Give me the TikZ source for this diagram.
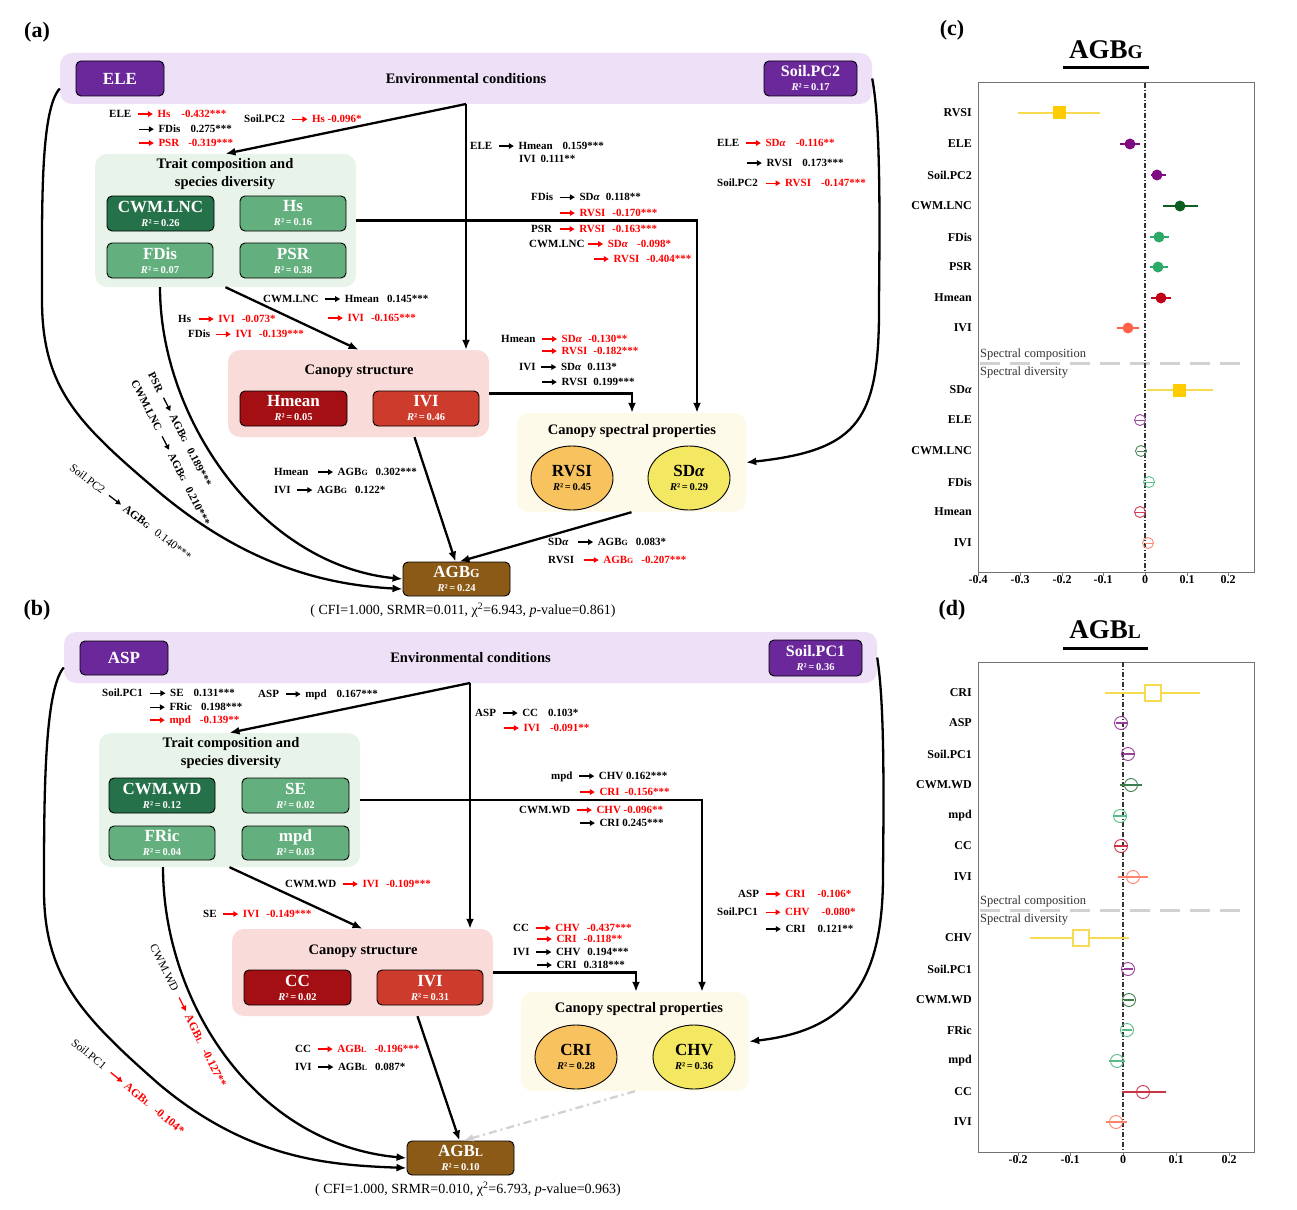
\documentclass[tikz,border=0pt]{standalone}
\usepackage{fontspec}
\setmainfont{Liberation Serif}
\usepackage{graphicx}
\usetikzlibrary{arrows.meta,shapes.geometric}

\definecolor{envbg}{HTML}{EEE0F6}
\definecolor{envpur}{HTML}{6B289B}
\definecolor{trbg}{HTML}{E8F3EA}
\definecolor{dkgreen}{HTML}{25714A}
\definecolor{ltgreen}{HTML}{63B07E}
\definecolor{csbg}{HTML}{F9DCDA}
\definecolor{dkred}{HTML}{A30F12}
\definecolor{mdred}{HTML}{CC3B2B}
\definecolor{spbg}{HTML}{FDFAEA}
\definecolor{orell}{HTML}{F8C35E}
\definecolor{yeell}{HTML}{F4E762}
\definecolor{agbbr}{HTML}{8C5A17}
\definecolor{cPur}{HTML}{7E0C80}
\definecolor{cDg}{HTML}{0E5E1F}
\definecolor{cMg}{HTML}{2EAA68}
\definecolor{cDr}{HTML}{C00019}
\definecolor{cTom}{HTML}{FF6347}
\definecolor{cYel}{HTML}{FFCC00}
\definecolor{cYln}{HTML}{F6DA50}

\newcommand{\ka}{\tikz[baseline=-0.7ex]\draw[black,line width=1.3pt,-{Triangle[length=5pt,width=5.5pt]}] (0pt,0pt) -- (15pt,0pt);}
\newcommand{\ra}{\tikz[baseline=-0.7ex]\draw[red,line width=1.3pt,-{Triangle[length=5pt,width=5.5pt]}] (0pt,0pt) -- (15pt,0pt);}
\newcommand{\rt}[1]{\textcolor{red}{#1}}
\newcommand{\agb}[1]{AGB\scalebox{0.72}{#1}}
\newcommand{\rsq}[1]{\\{\fontsize{10.5}{11}\selectfont\textit{R}²\,=\,#1}}

\tikzset{
    grp/.style={rounded corners=12pt, inner sep=0pt},
    vbox/.style={draw=black, line width=0.9pt, rounded corners=5pt, inner sep=0pt, text=white, align=center, minimum height=35, font=\bfseries\fontsize{17}{14}\selectfont},
    spell/.style={ellipse, draw=black, line width=0.9pt, minimum width=82, minimum height=64, inner sep=0pt, align=center, font=\bfseries\fontsize{17}{14}\selectfont},
    ttl/.style={inner sep=0pt, align=center, font=\bfseries\fontsize{14.5}{18}\selectfont},
    lab/.style={inner sep=0pt, anchor=west, font=\bfseries\fontsize{11}{13}\selectfont},
    rlab/.style={inner sep=0pt, anchor=west, font=\fontsize{11.5}{13}\selectfont},
    rlabb/.style={inner sep=0pt, anchor=west, font=\bfseries\fontsize{11}{13}\selectfont},
    conn/.style={line width=2.3pt, -{Latex[length=10pt,width=8pt]}},
    fitline/.style={inner sep=0pt, font=\fontsize{14}{16}\selectfont},
    pnl/.style={inner sep=0pt, font=\bfseries\fontsize{22}{24}\selectfont},
    rowlab/.style={inner sep=0pt, anchor=east, font=\bfseries\fontsize{12}{14}\selectfont},
    tick/.style={inner sep=0pt, anchor=north, font=\bfseries\fontsize{12}{14}\selectfont},
    sect/.style={inner sep=0pt, anchor=west, text=black!80, font=\fontsize{12.5}{14}\selectfont}
}

\begin{document}
\begin{tikzpicture}[x=1pt, y=-1pt]
\useasboundingbox[fill=white] (0,0) rectangle (1297,1209);

% ---------- (a) ----------
\node[pnl] (pa) at (37,32) {(a)};
\node[grp, fill=envbg, minimum width=812, minimum height=51, ttl] (envA) at (466,78.5) {Environmental conditions};
\node[vbox, fill=envpur, minimum width=88] (eleA) at (120,78.5) {ELE};
\node[vbox, fill=envpur, minimum width=93] (pc2A) at (810.5,78.5) {{\fontsize{16}{14}\selectfont Soil.PC2}\rsq{0.17}};

\node[grp, fill=trbg, minimum width=261, minimum height=133] (trA) at (225.5,220.5) {};
\node[ttl] (trAt) at (225,174) {Trait composition and\\species diversity};
\node[vbox, fill=dkgreen, minimum width=107] (lncA) at (160.5,213.5) {CWM.LNC\rsq{0.26}};
\node[vbox, fill=ltgreen, minimum width=106] (hsA) at (293,213.5) {Hs\rsq{0.16}};
\node[vbox, fill=ltgreen, minimum width=106] (fdA) at (160,260.5) {FDis\rsq{0.07}};
\node[vbox, fill=ltgreen, minimum width=106] (psrA) at (293,260.5) {PSR\rsq{0.38}};

\node[grp, fill=csbg, minimum width=261, minimum height=87] (csA) at (358.5,393.5) {};
\node[ttl] (csAt) at (359,371) {Canopy structure};
\node[vbox, fill=dkred, minimum width=107] (hmA) at (293.5,408.5) {Hmean\rsq{0.05}};
\node[vbox, fill=mdred, minimum width=106] (iviA) at (426,408.5) {IVI\rsq{0.46}};

\node[grp, fill=spbg, minimum width=229, minimum height=99] (spA) at (631.5,462.5) {};
\node[ttl] (spAt) at (632,431) {Canopy spectral properties};
\node[spell, fill=orell] (rvA) at (572,478) {RVSI\rsq{0.45}};
\node[spell, fill=yeell] (sdA) at (689,478) {SD\textit{α}\rsq{0.29}};

\node[vbox, fill=agbbr, minimum width=107, minimum height=34] (agA) at (456.5,579) {\agb{G}\rsq{0.24}};
\node[fitline] (fitA) at (463,610) {( CFI=1.000, SRMR=0.011, χ\textsuperscript{2}=6.943, \textit{p}-value=0.861)};

\coordinate (sA) at (466,104);
\draw[conn] (sA) -- (trA.north);
\draw[conn] (sA) -- (sA |- csA.north);
\draw[conn] (trA.east) -| ([xshift=65.5pt]spA.north);
\draw[conn] (csA.east) -| ([xshift=0.5pt]spA.north);
\draw[conn] (envA.east) .. controls (880,120) and (880,200) .. (879,300) .. controls (880,420) and (860,450) .. (spA.east);
\draw[conn] ([yshift=-10pt]envA.west) .. controls (40,110) and (42,210) .. (42,300) .. controls (42,390) and (80,425) .. (160,493) .. controls (250,568) and (330,585) .. ([yshift=-10pt]agA.west);
\draw[conn] ([xshift=-65.5pt]trA.south) .. controls (160,420) and (262,565) .. (agA.west);
\draw[conn] (trA.south) -- (csA.north);
\draw[conn] ([xshift=56pt]csA.south) -- ([xshift=-1pt]agA.north);
\draw[conn] (spA.south) -- ([xshift=3pt]agA.north);

\node[lab] (lA1) at (109,114) {ELE\hspace{6pt}\ra\hspace{4pt}\rt{Hs\hspace{11pt}-0.432***}};
\node[lab] (lA2) at (138,129) {\ka\hspace{4pt}FDis\hspace{10pt}0.275***};
\node[lab] (lA3) at (138,143) {\ra\hspace{4pt}\rt{PSR\hspace{9pt}-0.319***}};
\node[lab] (lA4) at (244,119) {Soil.PC2\hspace{7pt}\ra\hspace{4pt}\rt{Hs -0.096*}};
\node[lab] (lA5) at (470,146) {ELE\hspace{6pt}\ka\hspace{4pt}Hmean\hspace{10pt}0.159***};
\node[lab] (lA6) at (519,159) {IVI\hspace{5pt}0.111**};
\node[lab] (lA7) at (717,143) {ELE\hspace{6pt}\ra\hspace{4pt}\rt{SD\textit{α}\hspace{10pt}-0.116**}};
\node[lab] (lA8) at (746,163) {\ka\hspace{4pt}RVSI\hspace{10pt}0.173***};
\node[lab] (lA9) at (717,183) {Soil.PC2\hspace{7pt}\ra\hspace{4pt}\rt{RVSI\hspace{10pt}-0.147***}};
\node[lab] (lA10) at (531,197) {FDis\hspace{6pt}\ka\hspace{4pt}SD\textit{α}\hspace{6pt}0.118**};
\node[lab] (lA11) at (559,213) {\ra\hspace{4pt}\rt{RVSI\hspace{7pt}-0.170***}};
\node[lab] (lA12) at (531,229) {PSR\hspace{7pt}\ra\hspace{4pt}\rt{RVSI\hspace{7pt}-0.163***}};
\node[lab] (lA13) at (529,244) {CWM.LNC\hspace{3pt}\ra\hspace{4pt}\rt{SD\textit{α}\hspace{9pt}-0.098*}};
\node[lab] (lA14) at (593,259) {\ra\hspace{4pt}\rt{RVSI\hspace{7pt}-0.404***}};
\node[lab] (lA15) at (263,299) {CWM.LNC\hspace{6pt}\ka\hspace{4pt}Hmean\hspace{8pt}0.145***};
\node[lab] (lA16) at (327,318) {\ra\hspace{4pt}\rt{IVI\hspace{7pt}-0.165***}};
\node[lab] (lA17) at (178,319) {Hs\hspace{7pt}\ra\hspace{4pt}\rt{IVI\hspace{7pt}-0.073*}};
\node[lab] (lA18) at (188,334) {FDis\hspace{5pt}\ra\hspace{4pt}\rt{IVI\hspace{7pt}-0.139***}};
\node[lab] (lA19) at (501,339) {Hmean\hspace{6pt}\ra\hspace{4pt}\rt{SD\textit{α}\hspace{6pt}-0.130**}};
\node[lab] (lA20) at (541,351) {\ra\hspace{4pt}\rt{RVSI\hspace{6pt}-0.182***}};
\node[lab] (lA21) at (519,367) {IVI\hspace{5pt}\ka\hspace{4pt}SD\textit{α}\hspace{6pt}0.113*};
\node[lab] (lA22) at (541,382) {\ka\hspace{4pt}RVSI\hspace{6pt}0.199***};
\node[lab] (lA23) at (274,472) {Hmean\hspace{9pt}\ka\hspace{4pt}\agb{G}\hspace{8pt}0.302***};
\node[lab] (lA24) at (274,490) {IVI\hspace{6pt}\ka\hspace{4pt}\agb{G}\hspace{8pt}0.122*};
\node[lab] (lA25) at (548,542) {SD\textit{α}\hspace{9pt}\ka\hspace{4pt}\agb{G}\hspace{8pt}0.083*};
\node[lab] (lA26) at (548,560) {RVSI\hspace{9pt}\ra\hspace{4pt}\rt{\agb{G}\hspace{8pt}-0.207***}};
\node[rlabb, rotate=-63] (rA1) at (151,373) {PSR\hspace{6pt}\ka\hspace{4pt}\agb{G}\hspace{8pt}0.189***};
\node[rlabb, rotate=-63] (rA2) at (134,381) {CWM.LNC\hspace{6pt}\ka\hspace{4pt}\agb{G}\hspace{8pt}0.210***};
\node[rlab, rotate=-37.5] (rA3) at (71,466) {Soil.PC2\hspace{6pt}\ka\hspace{4pt}\textbf{\agb{G}}\hspace{8pt}0.140***};

% ---------- (b) ----------
\node[pnl] (pb) at (37,610) {(b)};
\node[grp, fill=envbg, minimum width=813, minimum height=51, ttl] (envB) at (470.5,657.5) {Environmental conditions};
\node[vbox, fill=envpur, minimum width=88, minimum height=34] (aspB) at (124,658) {ASP};
\node[vbox, fill=envpur, minimum width=93, minimum height=36] (pc1B) at (815.5,658) {{\fontsize{16}{14}\selectfont Soil.PC1}\rsq{0.36}};

\node[grp, fill=trbg, minimum width=261, minimum height=134] (trB) at (229.5,800) {};
\node[ttl] (trBt) at (231,753.5) {Trait composition and\\species diversity};
\node[vbox, fill=dkgreen, minimum width=106] (wdB) at (162,795.5) {CWM.WD\rsq{0.12}};
\node[vbox, fill=ltgreen, minimum width=107] (seB) at (295.5,795.5) {SE\rsq{0.02}};
\node[vbox, fill=ltgreen, minimum width=106, minimum height=34] (frB) at (162,843) {FRic\rsq{0.04}};
\node[vbox, fill=ltgreen, minimum width=107, minimum height=34] (mpdB) at (295.5,843) {mpd\rsq{0.03}};

\node[grp, fill=csbg, minimum width=261, minimum height=87] (csB) at (362.5,972.5) {};
\node[ttl] (csBt) at (363,951) {Canopy structure};
\node[vbox, fill=dkred, minimum width=107] (ccB) at (297.5,987.5) {CC\rsq{0.02}};
\node[vbox, fill=mdred, minimum width=106] (iviB) at (430,987.5) {IVI\rsq{0.31}};

\node[grp, fill=spbg, minimum width=228, minimum height=99] (spB) at (635,1041.5) {};
\node[ttl] (spBt) at (639,1009) {Canopy spectral properties};
\node[spell, fill=orell] (criB) at (576,1057) {CRI\rsq{0.28}};
\node[spell, fill=yeell] (chvB) at (694,1057) {CHV\rsq{0.36}};

\node[vbox, fill=agbbr, minimum width=107, minimum height=34] (agB) at (460.5,1158) {\agb{L}\rsq{0.10}};
\node[fitline] (fitB) at (468,1189) {( CFI=1.000, SRMR=0.010, χ\textsuperscript{2}=6.793, \textit{p}-value=0.963)};

\coordinate (sB) at (470,683);
\draw[conn] (sB) -- (trB.north);
\draw[conn] (sB) -- (sB |- csB.north);
\draw[conn] (trB.east) -| ([xshift=67pt]spB.north);
\draw[conn] (csB.east) -| ([xshift=1pt]spB.north);
\draw[conn] (envB.east) .. controls (884,700) and (884,780) .. (883,870) .. controls (884,980) and (850,1030) .. (spB.east);
\draw[conn] ([yshift=-10pt]envB.west) .. controls (44,690) and (44,800) .. (44,890) .. controls (44,975) and (80,1015) .. (160,1085) .. controls (250,1160) and (330,1165) .. ([yshift=-10pt]agB.west);
\draw[conn] ([xshift=-66.5pt]trB.south) .. controls (163,1000) and (253,1144) .. (agB.west);
\draw[conn] (trB.south) -- (csB.north);
\draw[conn] ([xshift=55pt]csB.south) -- ([xshift=-1pt]agB.north);
\draw[conn, gray!35, dash pattern=on 8pt off 4pt on 2pt off 4pt] (spB.south) -- ([xshift=3pt]agB.north);

\node[lab] (lB1) at (102,693) {Soil.PC1\hspace{7pt}\ka\hspace{4pt}SE\hspace{10pt}0.131***};
\node[lab] (lB2) at (149,707) {\ka\hspace{4pt}FRic\hspace{9pt}0.198***};
\node[lab] (lB3) at (149,721) {\ra\hspace{4pt}\rt{mpd\hspace{9pt}-0.139**}};
\node[lab] (lB4) at (258,695) {ASP\hspace{6pt}\ka\hspace{4pt}mpd\hspace{10pt}0.167***};
\node[lab] (lB5) at (475,713) {ASP\hspace{6pt}\ka\hspace{4pt}CC\hspace{10pt}0.103*};
\node[lab] (lB6) at (503,728) {\ra\hspace{4pt}\rt{IVI\hspace{10pt}-0.091**}};
\node[lab] (lB7) at (551,777) {mpd\hspace{6pt}\ka\hspace{4pt}CHV 0.162***};
\node[lab] (lB8) at (579,792) {\ra\hspace{4pt}\rt{CRI\hspace{5pt}-0.156***}};
\node[lab] (lB9) at (519,810) {CWM.WD\hspace{6pt}\ra\hspace{4pt}\rt{CHV -0.096**}};
\node[lab] (lB10) at (579,823) {\ka\hspace{4pt}CRI 0.245***};
\node[lab] (lB11) at (285,884) {CWM.WD\hspace{6pt}\ra\hspace{4pt}\rt{IVI\hspace{7pt}-0.109***}};
\node[lab] (lB12) at (203,914) {SE\hspace{6pt}\ra\hspace{4pt}\rt{IVI\hspace{7pt}-0.149***}};
\node[lab] (lB13) at (513,928) {CC\hspace{6pt}\ra\hspace{4pt}\rt{CHV\hspace{7pt}-0.437***}};
\node[lab] (lB14) at (536,939) {\ra\hspace{4pt}\rt{CRI\hspace{7pt}-0.118**}};
\node[lab] (lB15) at (513,952) {IVI\hspace{6pt}\ka\hspace{4pt}CHV\hspace{7pt}0.194***};
\node[lab] (lB16) at (536,965) {\ka\hspace{4pt}CRI\hspace{7pt}0.318***};
\node[lab] (lB17) at (738,894) {ASP\hspace{6pt}\ra\hspace{4pt}\rt{CRI\hspace{12pt}-0.106*}};
\node[lab] (lB18) at (717,912) {Soil.PC1\hspace{7pt}\ra\hspace{4pt}\rt{CHV\hspace{12pt}-0.080*}};
\node[lab] (lB19) at (765,929) {\ka\hspace{4pt}CRI\hspace{12pt}0.121**};
\node[lab] (lB20) at (295,1049) {CC\hspace{6pt}\ra\hspace{4pt}\rt{\agb{L}\hspace{8pt}-0.196***}};
\node[lab] (lB21) at (295,1067) {IVI\hspace{6pt}\ka\hspace{4pt}\agb{L}\hspace{8pt}0.087*};
\node[rlab, rotate=-63.5] (rB1) at (153,945) {CWM.WD\hspace{7pt}\ra\hspace{4pt}\rt{\textbf{\agb{L}\hspace{8pt}-0.127**}}};
\node[rlab, rotate=-39.5] (rB2) at (73,1041) {Soil.PC1\hspace{7pt}\ra\hspace{4pt}\rt{\textbf{\agb{L}\hspace{8pt}-0.104*}}};

% ---------- (c) ----------
\node[pnl] (pc) at (952,30) {(c)};
\node[inner sep=0pt, font=\bfseries\fontsize{27}{28}\selectfont] (tc) at (1106,50) {\agb{G}};
\draw[line width=3pt] (1063,68) -- (1149,68);
\draw[black!55, line width=1pt] (978,83) rectangle (1254,572);
\draw[black!18, line width=3pt, dash pattern=on 20pt off 10pt] (980,363) -- (1250,363);
\node[sect] (c-comp) at (980,354) {Spectral composition};
\node[sect] (c-div) at (980,373) {Spectral diversity};
\draw[black!80, line width=1.1pt, dash pattern=on 5pt off 2pt on 1pt off 2pt] (1145,83) -- (1145,572);
\foreach \xv/\tl in {978/-0.4,1020/-0.3,1062/-0.2,1103/-0.1,1145/0,1187/0.1,1228/0.2}{
  \draw[black!55, line width=0.8pt] (\xv,572) -- (\xv,576);
  \node[tick] at (\xv,575) {\tl};
}
\foreach \rn/\yy/\est/\lo/\hi in {RVSI/113/1059/1018/1100, {SD\textit{α}}/390/1179/1147/1213}{
  \node[rowlab] at (972,\yy) {\rn};
  \draw[cYln, line width=1.5pt] (\lo,\yy) -- (\hi,\yy);
  \fill[cYel] (\est,\yy) +(-6.5,-6.5) rectangle +(6.5,6.5);
}
\foreach \rn/\yy/\est/\lo/\hi/\col in {ELE/144/1130/1120/1140/cPur, Soil.PC2/175/1157/1151/1166/cPur, CWM.LNC/206/1180/1163/1198/cDg, FDis/237/1159/1150/1169/cMg, PSR/267/1158/1150/1168/cMg, Hmean/298/1161/1151/1171/cDr, IVI/328/1128/1117/1139/cTom}{
  \node[rowlab] at (972,\yy) {\rn};
  \draw[color=\col, line width=1.5pt] (\lo,\yy) -- (\hi,\yy);
  \fill[color=\col] (\est,\yy) circle (5.5pt);
}
\foreach \rn/\yy/\est/\lo/\hi/\col in {ELE/420/1140/1135/1146/cPur, CWM.LNC/451/1141/1137/1147/cDg, FDis/482/1149/1144/1154/cMg, Hmean/512/1140/1135/1146/cDr, IVI/543/1148/1145/1153/cTom}{
  \node[rowlab] at (972,\yy) {\rn};
  \draw[color=\col!75, line width=0.9pt] (\lo,\yy) -- (\hi,\yy);
  \draw[color=\col!75, line width=0.9pt] (\est,\yy) circle (5.5pt);
}

% ---------- (d) ----------
\node[pnl] (pd) at (952,610) {(d)};
\node[inner sep=0pt, font=\bfseries\fontsize{27}{28}\selectfont] (td) at (1105,630) {\agb{L}};
\draw[line width=3pt] (1063,648) -- (1148,648);
\draw[black!55, line width=1pt] (978,662) rectangle (1254,1152);
\draw[black!18, line width=3pt, dash pattern=on 20pt off 10pt] (980,910) -- (1250,910);
\node[sect] (d-comp) at (980,901) {Spectral composition};
\node[sect] (d-div) at (980,920) {Spectral diversity};
\draw[black!80, line width=1.1pt, dash pattern=on 5pt off 2pt on 1pt off 2pt] (1123,662) -- (1123,1152);
\foreach \xv/\tl in {1018/-0.2,1070/-0.1,1123/0,1176/0.1,1229/0.2}{
  \draw[black!55, line width=0.8pt] (\xv,1152) -- (\xv,1156);
  \node[tick] at (\xv,1155) {\tl};
}
\foreach \rn/\yy/\est/\lo/\hi in {CRI/693/1153/1105/1200, CHV/938/1081/1030/1129}{
  \node[rowlab] at (972,\yy) {\rn};
  \draw[cYln, line width=1.3pt] (\lo,\yy) -- (\hi,\yy);
  \filldraw[fill=white, draw=cYln, line width=1.3pt] (\est,\yy) +(-8,-8) rectangle +(8,8);
}
\foreach \rn/\yy/\est/\lo/\hi/\col in {ASP/723/1121/1116/1127/cPur, Soil.PC1/754/1128/1123/1134/cPur, CWM.WD/785/1131/1120/1142/cDg, mpd/816/1120/1113/1127/cMg, CC/846/1121/1115/1127/cDr, IVI/877/1133/1118/1148/cTom, Soil.PC1/969/1128/1124/1133/cPur, CWM.WD/1000/1129/1124/1134/cDg, FRic/1030/1127/1122/1132/cMg, mpd/1061/1117/1109/1125/cMg, CC/1092/1143/1122/1166/cDr, IVI/1122/1116/1106/1127/cTom}{
  \node[rowlab] at (972,\yy) {\rn};
  \draw[color=\col!80, line width=1.1pt] (\lo,\yy) -- (\hi,\yy);
  \draw[color=\col!80, line width=0.9pt] (\est,\yy) circle (6.5pt);
}
\end{tikzpicture}
\end{document}
